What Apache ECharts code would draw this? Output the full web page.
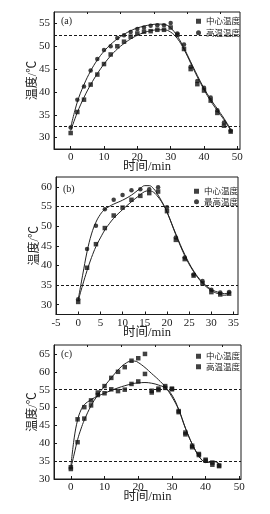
<!DOCTYPE html>
<html><head><meta charset="utf-8">
<script src="https://cdn.jsdelivr.net/npm/echarts@6/dist/echarts.min.js"></script>
<style>html,body{margin:0;padding:0;background:#fff}#c{width:270px;height:514px}</style>
</head><body><div id="c"></div>
<script>
// ---------- Data ----------
// Panel (a)
const timesA = [0,2,4,6,8,10,12,14,16,18,20,22,24,26,28,30,32,34,36,38,40,42,44,46,48];
const centerA = [31.0,35.6,38.3,41.6,43.8,46.1,48.2,50.0,51.0,52.1,52.8,53.2,53.3,53.6,53.6,54.1,52.5,49.4,45.0,41.7,40.3,38.1,35.4,32.6,31.3];
const highA   = [32.2,38.3,41.2,44.7,47.2,49.2,50.0,51.8,52.4,53.1,53.8,54.1,54.5,54.6,54.6,55.1,52.8,50.4,45.5,42.4,40.9,38.8,36.0,33.3,31.5];
const fitTimesA = [0,2,4,6,8,10,12,14,16,18,20,22,24,26,28,30,32,34,36,38,40,42,44,46,48];
const fitHighA   = [32.2,37.8,41.6,44.6,47.0,48.9,50.4,51.6,52.6,53.4,54.0,54.4,54.7,54.85,54.8,54.0,52.2,49.6,46.6,43.6,40.8,38.4,36.3,34.2,31.8];
const fitCenterA = [31.5,35.5,38.8,41.6,44.0,46.1,47.9,49.4,50.6,51.6,52.4,53.0,53.4,53.6,53.6,53.1,51.7,49.3,46.3,43.3,40.5,38.0,35.9,33.9,31.6];
const refLinesA = [52.5, 32.5];

// Panel (b)
const timesB = [0,2,4,6,8,10,12,14,16,18,20,22,24,26,28,30,32,34];
const centerB = [30.7,39.4,45.4,49.5,52.7,54.7,56.7,57.7,58.4,58.8,53.8,46.5,41.6,37.4,35.4,33.2,32.6,32.8];
const maxB    = [31.4,44.2,50.1,54.3,56.7,57.9,59.1,59.4,59.4,59.9,54.8,47.1,42.0,37.7,36.0,33.8,33.1,33.2];
const fitTimesB = [0,1,2,3,4,5,6,7,8,10,12,14,15,16,17,18,19,20,22,24,26,28,30,32,33,34];
const fitMaxB    = [31.3,37.5,43.5,48.0,51.0,53.0,54.3,55.0,55.6,56.6,57.9,59.6,60.3,60.3,59.5,57.9,55.9,53.6,48.0,42.8,38.6,35.7,33.9,33.0,32.8,33.0];
const fitCenterB = [31.0,35.0,38.7,42.0,44.8,47.0,49.0,50.6,52.0,54.2,56.2,58.0,58.8,59.0,58.6,57.4,55.8,53.6,47.8,42.5,38.4,35.5,33.6,32.6,32.4,32.7];
const refLinesB = [55, 35];

// Panel (c)
const timesC = [0,2,4,6,8,10,12,14,16,18,20,22,24,26,28,30,32,34,36,38,40,42,44];
const centerC = [32.8,46.7,50.1,52.0,53.5,54.0,55.1,54.6,55.0,56.6,57.3,59.4,54.7,55.3,55.5,55.1,49.0,43.0,39.3,37.0,35.4,34.6,33.8];
const highC   = [33.3,40.3,46.9,50.6,54.2,56.0,58.3,60.0,61.3,63.1,63.8,65.0,54.2,54.9,56.0,55.3,48.7,42.5,38.9,36.7,35.1,34.0,33.6];
const fitTimesC = [0,1,2,3,4,6,8,10,12,14,16,18,19,20,22,24,26,28,30,32,34,36,38,39,40,42,43,44];
const fitHighC   = [33.0,37.0,41.0,44.0,46.5,50.5,53.5,56.0,58.3,60.5,62.2,63.0,63.0,62.6,61.2,59.5,57.8,55.8,53.0,49.4,44.2,39.8,36.4,35.2,34.6,34.9,34.9,34.2];
const fitCenterC = [33.5,41.5,46.5,49.3,50.8,52.2,53.2,54.0,54.8,55.5,56.1,56.6,56.8,56.9,57.0,56.8,56.3,55.5,53.5,49.5,44.3,39.8,36.3,35.3,34.6,34.8,34.8,34.2];
const refLinesC = [55, 35];

const ticksA_y = [30,35,40,45,50,55];
const ticksA_x = [0,10,20,30,40,50];
const ticksB_y = [30,35,40,45,50,55,60];
const ticksB_x = [-5,0,5,10,15,20,25,30,35];
const ticksC_y = [30,35,40,45,50,55,60,65];
const ticksC_x = [0,10,20,30,40,50];
const minorX_AC = [-5,5,15,25,35,45];

const xName = '时间/min';
const yName = '温度/℃';
// ---------- Build ----------
const pair = (t, v) => t.map((x, i) => [x, v[i]]);
const INK = '#1a1a1a';
const SERIF = '"Liberation Serif","Times New Roman","Noto Sans CJK SC",serif';

const panels = [
  {grid:{left:54, top:12, width:186, height:137}, x:[-5,50.8], y:[27.5,57.5], xt:ticksA_x, yt:ticksA_y, minor:minorX_AC,
   label:'(a)', lab:[61,16], ref:refLinesA,
   s1:{name:'中心温度', sym:'rect', d:pair(timesA, centerA)}, s2:{name:'高温温度', sym:'circle', d:pair(timesA, highA)},
   f:[pair(fitTimesA, fitHighA), pair(fitTimesA, fitCenterA)], leg:{left:191, top:12, gap:3}},
  {grid:{left:56, top:177, width:182, height:137.5}, x:[-5,36], y:[27.5,62.5], xt:ticksB_x, yt:ticksB_y, minor:null,
   label:'(b)', lab:[63,184], ref:refLinesB,
   s1:{name:'中心温度', sym:'rect', d:pair(timesB, centerB)}, s2:{name:'最高温度', sym:'circle', d:pair(timesB, maxB)},
   f:[pair(fitTimesB, fitMaxB), pair(fitTimesB, fitCenterB)], leg:{left:189, top:182, gap:2}},
  {grid:{left:54, top:345, width:187, height:134}, x:[-5,50.5], y:[30,67.5], xt:ticksC_x, yt:ticksC_y, minor:minorX_AC,
   label:'(c)', lab:[61,349], ref:refLinesC,
   s1:{name:'中心温度', sym:'rect', d:pair(timesC, centerC)}, s2:{name:'高温温度', sym:'rect', d:pair(timesC, highC)},
   f:[pair(fitTimesC, fitHighC), pair(fitTimesC, fitCenterC)], leg:{left:191, top:347, gap:2}}
];

const option = {animation:false, backgroundColor:'#fff', grid:[], xAxis:[], yAxis:[], series:[], legend:[], graphic:[]};
panels.forEach((p, gi) => {
  option.grid.push(Object.assign({show:true, borderColor:INK, borderWidth:1, backgroundColor:'transparent'}, p.grid));
  const xi = option.xAxis.length;
  option.xAxis.push({type:'value', gridIndex:gi, min:p.x[0], max:p.x[1], splitLine:{show:false},
    axisLine:{onZero:false, lineStyle:{color:INK}}, axisTick:{inside:true, length:3, customValues:p.xt, lineStyle:{color:INK}},
    axisLabel:{customValues:p.xt, color:'#222', fontSize:11, fontFamily:SERIF, margin:3},
    name:xName, nameLocation:'middle', nameGap:11.5, nameMoveOverlap:false,
    nameTextStyle:{fontSize:12.5, color:'#222', fontFamily:SERIF, verticalAlign:'top'}});
  if (p.minor) {
    option.xAxis.push({type:'value', gridIndex:gi, min:p.x[0], max:p.x[1], splitLine:{show:false},
      axisLine:{show:false, onZero:false}, axisLabel:{show:false},
      axisTick:{inside:true, length:2, customValues:p.minor, lineStyle:{color:INK}}});
  }
  const yi = option.yAxis.length;
  option.yAxis.push({type:'value', gridIndex:gi, min:p.y[0], max:p.y[1], splitLine:{show:false},
    axisLine:{show:true, onZero:false, lineStyle:{color:INK}}, axisTick:{inside:true, length:3, customValues:p.yt, lineStyle:{color:INK}},
    axisLabel:{customValues:p.yt, color:'#222', fontSize:11, fontFamily:SERIF, margin:4},
    name:yName, nameLocation:'middle', nameGap:15, nameRotate:90, nameMoveOverlap:false,
    nameTextStyle:{fontSize:12, color:'#222', fontFamily:SERIF}});
  const mk = (s) => ({type:'scatter', name:s.name, xAxisIndex:xi, yAxisIndex:yi, data:s.d, symbol:s.sym, symbolSize:4.5,
      itemStyle:{color:'#111'}, z:3});
  const s1 = mk(p.s1);
  s1.markLine = {silent:true, symbol:'none', label:{show:false}, animation:false,
    lineStyle:{color:INK, type:[3,2], width:1}, data:p.ref.map(v => ({yAxis:v}))};
  option.series.push(s1, mk(p.s2));
  p.f.forEach(fd => option.series.push({type:'line', xAxisIndex:xi, yAxisIndex:yi, data:fd, smooth:0.4, showSymbol:false,
    symbol:'none', lineStyle:{color:'#222', width:1}, z:2, silent:true}));
  option.legend.push({orient:'vertical', left:p.leg.left, top:p.leg.top, itemWidth:5, itemHeight:5, itemGap:p.leg.gap,
    selectedMode:false, textStyle:{fontSize:8.5, color:'#222', fontFamily:'"Noto Sans CJK SC",sans-serif', lineHeight:8}, 
    data:[{name:p.s1.name, icon:p.s1.sym}, {name:p.s2.name, icon:p.s2.sym}], itemStyle:{color:'#111'}});
  option.graphic.push({type:'text', left:p.lab[0], top:p.lab[1], style:{text:p.label, font:'10px "Liberation Serif"', fill:'#222'}});
});
const chart = echarts.init(document.getElementById('c'), null, {renderer:'canvas'});
chart.setOption(option);
</script></body></html>
